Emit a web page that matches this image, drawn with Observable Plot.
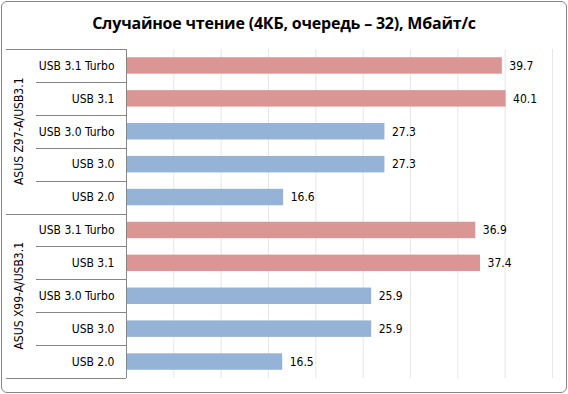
<!DOCTYPE html>
<html>
<head>
<meta charset="utf-8">
<script src="https://cdn.jsdelivr.net/npm/d3@7"></script>
<script src="https://cdn.jsdelivr.net/npm/@observablehq/plot@0.6"></script>
<style>
  html, body { margin: 0; padding: 0; background: #fff; overflow: hidden; }
  #frame { position: absolute; left: 1px; top: 1px; width: 566px; height: 392px; box-sizing: border-box;
           border: 1px solid #868686; border-radius: 6px; }
  #title { position: absolute; left: 0; top: 12px; width: 568px; text-align: center;
           font-family: "Open Sans", sans-serif; font-weight: 700; font-size: 16px; letter-spacing: -0.2px; color: #000; }
  #chart { position: absolute; left: 0; top: 0; }
</style>
</head>
<body>
<div id="frame"></div>
<div id="chart"></div>
<div id="title">Случайное чтение (4КБ, очередь – 32), Мбайт/с</div>
<script>
const groups = ["ASUS Z97-A/USB3.1", "ASUS X99-A/USB3.1"];
const ports = ["USB 3.1 Turbo", "USB 3.1", "USB 3.0 Turbo", "USB 3.0", "USB 2.0"];
const z97Values = [39.7, 40.1, 27.3, 27.3, 16.6];
const x99Values = [36.9, 37.4, 25.9, 25.9, 16.5];
const portColors = ["#d99694", "#d99694", "#95b3d7", "#95b3d7", "#95b3d7"];
const xTicks = [5, 10, 15, 20, 25, 30, 35, 40, 45];
const xDomain = [0, 45];

const seriesByGroup = [z97Values, x99Values];
const rows = [];
groups.forEach((g, gi) => {
  ports.forEach((p, pi) => {
    rows.push({group: g, port: p, key: g + "|" + p, value: seriesByGroup[gi][pi], color: portColors[pi]});
  });
});
const keys = rows.map(d => d.key);

const FONT = '"DejaVu Sans Condensed", "DejaVu Sans", sans-serif';
const lineColor = "#868686";

const plot = Plot.plot({
  width: 568,
  height: 394,
  marginTop: 49,
  marginBottom: 16,
  marginLeft: 126,
  marginRight: 16,
  style: {fontFamily: FONT, fontSize: "12px", background: "transparent", color: "#000", fontStretch: "condensed"},
  x: {domain: xDomain, axis: null},
  y: {domain: keys, paddingInner: 0.5, paddingOuter: 0.25, round: false, axis: null},
  color: {type: "identity"},
  marks: [
    Plot.gridX(xTicks, {stroke: "#e6e6e6", strokeOpacity: 1}),
    Plot.barX(rows, {x: "value", y: "key", fill: "color"}),
    Plot.text(rows, {x: "value", y: "key", text: d => d.value.toFixed(1), textAnchor: "start", dx: 7, fill: "#000"}),
    Plot.ruleX([0], {stroke: lineColor}),
    Plot.axisY({tickFormat: d => d.split("|")[1], tickSize: 0, tickPadding: 12, fill: "#000", label: null})
  ]
});

// Table-like separators and group labels, positioned from the Plot y scale
const ys = plot.scale("y");
const svg = d3.select(plot);
const xAxis = 126;
const groupLeft = 6;
const portLeft = 36;
const deco = svg.append("g").attr("stroke", lineColor).attr("stroke-width", 1);
const center = k => ys.apply(k) + ys.bandwidth / 2;
keys.forEach((k, i) => {
  const top = center(k) - ys.step / 2;
  const isGroupStart = i % ports.length === 0;
  deco.append("line").attr("x1", isGroupStart ? groupLeft : portLeft).attr("x2", xAxis)
    .attr("y1", Math.round(top) + 0.5).attr("y2", Math.round(top) + 0.5);
});
const lastBottom = center(keys[keys.length - 1]) + ys.step / 2;
deco.append("line").attr("x1", groupLeft).attr("x2", xAxis)
  .attr("y1", Math.round(lastBottom) + 0.5).attr("y2", Math.round(lastBottom) + 0.5);
groups.forEach(g => {
  const gk = keys.filter(k => k.startsWith(g + "|"));
  const y1 = center(gk[0]) - ys.step / 2;
  const y2 = center(gk[gk.length - 1]) + ys.step / 2;
  svg.append("text")
    .attr("transform", `translate(19,${(y1 + y2) / 2}) rotate(-90)`)
    .attr("text-anchor", "middle").attr("dominant-baseline", "middle")
    .attr("font-family", FONT).attr("font-size", 12).attr("fill", "#000")
    .text(g);
});

document.getElementById("chart").appendChild(plot);
</script>
</body>
</html>
